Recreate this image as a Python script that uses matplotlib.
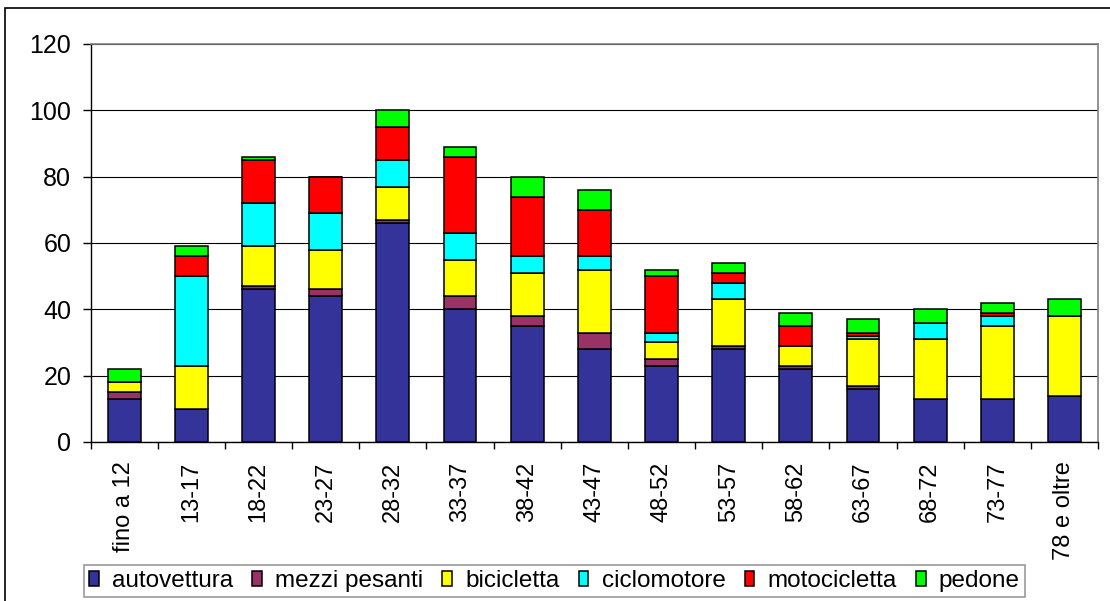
import matplotlib.pyplot as plt
from matplotlib.patches import Rectangle
import numpy as np

eta = ['fino a 12', '13-17', '18-22', '23-27', '28-32', '33-37', '38-42', '43-47',
       '48-52', '53-57', '58-62', '63-67', '68-72', '73-77', '78 e oltre']

autovettura = [13, 10, 46, 44, 66, 40, 35, 28, 23, 28, 22, 16, 13, 13, 14]
mezzi_pesanti = [2, 0, 1, 2, 1, 4, 3, 5, 2, 1, 1, 1, 0, 0, 0]
bicicletta = [3, 13, 12, 12, 10, 11, 13, 19, 5, 14, 6, 14, 18, 22, 24]
ciclomotore = [0, 27, 13, 11, 8, 8, 5, 4, 3, 5, 0, 1, 5, 3, 0]
motocicletta = [0, 6, 13, 11, 10, 23, 18, 14, 17, 3, 6, 1, 0, 1, 0]
pedone = [4, 3, 1, 0, 5, 3, 6, 6, 2, 3, 4, 4, 4, 3, 5]

serie = [('autovettura', autovettura, '#333399'),
         ('mezzi pesanti', mezzi_pesanti, '#993366'),
         ('bicicletta', bicicletta, '#FFFF00'),
         ('ciclomotore', ciclomotore, '#00FFFF'),
         ('motocicletta', motocicletta, '#FF0000'),
         ('pedone', pedone, '#00FF00')]

plt.rcParams['font.family'] = ['Liberation Sans', 'DejaVu Sans']

fig = plt.figure(figsize=(11.1, 6.01), dpi=100)
ax = fig.add_axes([0.0817, 0.2646, 0.9075, 0.6622])

x = np.arange(len(eta))
base = np.zeros(len(eta))
for nome, valori, colore in serie:
    valori = np.array(valori, dtype=float)
    ax.bar(x, valori, width=0.49, bottom=base, color=colore, edgecolor='black',
           linewidth=1.1, label=nome, zorder=3)
    base += valori

ax.set_xlim(-0.5, len(eta) - 0.5)
ax.set_ylim(0, 120)
ax.set_yticks(range(0, 121, 20))
ax.yaxis.grid(True, color='black', linewidth=0.8)
ax.set_axisbelow(True)

# etichette al centro delle barre, tacche tra una categoria e l'altra
ax.set_xticks(x)
ax.set_xticklabels(eta, rotation=90, fontsize=17)
ax.set_xticks(np.arange(-0.5, len(eta)), minor=True)
ax.tick_params(axis='x', which='major', length=0, pad=14)
ax.tick_params(axis='x', which='minor', length=5, width=1, direction='out')
ax.tick_params(axis='y', length=6, width=1, pad=8, labelsize=18)

for lato in ['top', 'right']:
    ax.spines[lato].set_color('#808080')
    ax.spines[lato].set_linewidth(1.2)
for lato in ['left', 'bottom']:
    ax.spines[lato].set_color('black')
    ax.spines[lato].set_linewidth(1.0)

leg = fig.legend(loc='center', bbox_to_anchor=(0.4995, 0.0333), ncol=6,
                 fontsize=17.5, frameon=True, fancybox=False, edgecolor='#808080',
                 handlelength=0.4, handleheight=0.55, handletextpad=0.55,
                 columnspacing=0.78, borderpad=0.22, borderaxespad=0)
leg.get_frame().set_linewidth(1.2)

# cornice esterna del grafico
fig.patches.append(Rectangle((4.5 / 1110, -0.1), 1.2, 1 - 7.5 / 601 + 0.1,
                             transform=fig.transFigure, fill=False,
                             edgecolor='black', linewidth=1.2))

fig.savefig('out.png', dpi=100)
